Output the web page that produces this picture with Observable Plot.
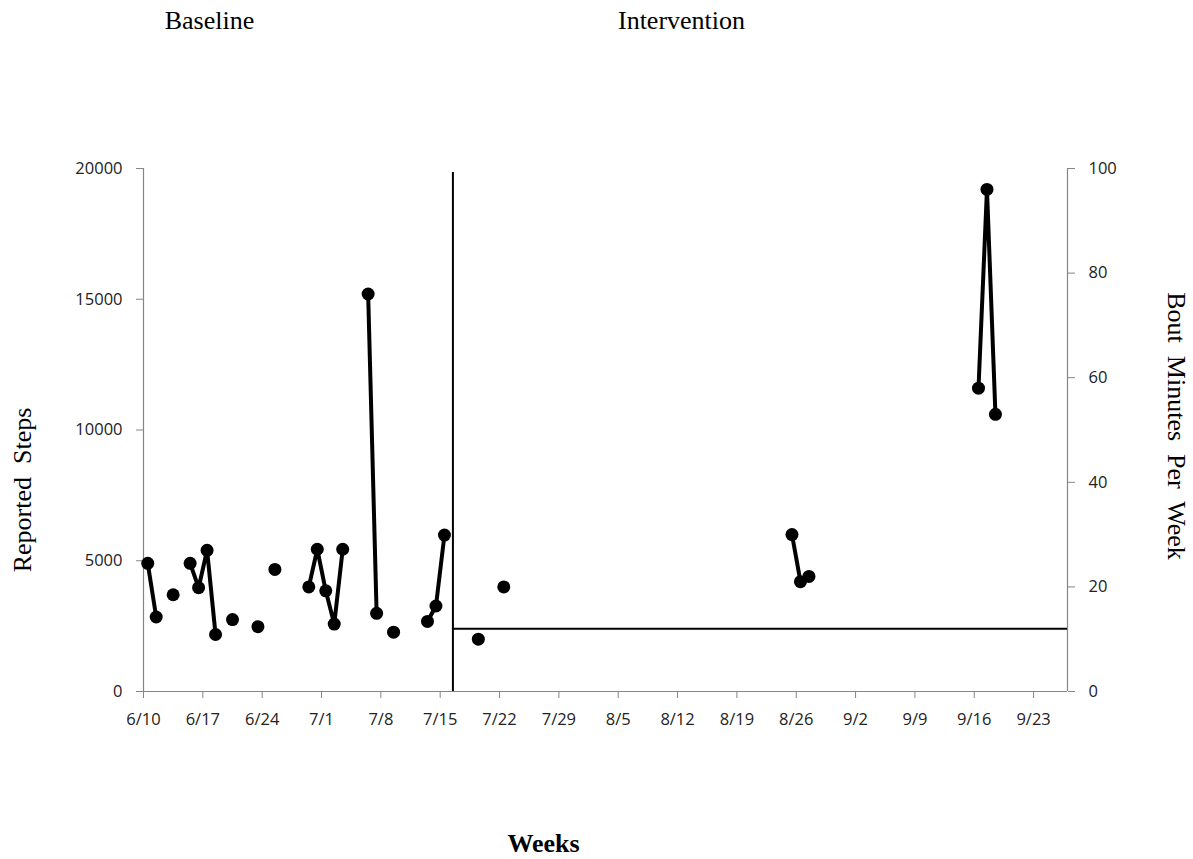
<!DOCTYPE html>
<html><head><meta charset="utf-8">
<script src="https://cdn.jsdelivr.net/npm/d3@7"></script>
<script src="https://cdn.jsdelivr.net/npm/@observablehq/plot@0.6"></script>
<style>body{margin:0;background:#fff;}</style>
</head><body><div id="chart"></div>
<script>
// ---- data ----
const baselineDates = ["6/10","6/11","6/13","6/15","6/16","6/17","6/18","6/20","6/23","6/25","6/29","6/30","7/1","7/2","7/3","7/6","7/7","7/9","7/13","7/14","7/15"];
const baselineSteps = [4900,2850,3700,4900,3970,5400,2180,2750,2480,4670,4000,5440,3850,2580,5440,15200,2990,2270,2680,3270,5980];
const interventionDates = ["7/19","7/22","8/25","8/26","8/27","9/16","9/17","9/18"];
const interventionMinutes = [10,20,30,21,22,58,96,53];
const criterionMinutes = 12;
const phaseChangeDate = "7/16";
const weekTickLabels = ["6/10","6/17","6/24","7/1","7/8","7/15","7/22","7/29","8/5","8/12","8/19","8/26","9/2","9/9","9/16","9/23"];
const xDomainLabels = ["6/10","9/27"];
const stepTicks = [0,5000,10000,15000,20000];
const minuteTicks = [0,20,40,60,80,100];
const stepsPerMinute = 20000 / 100;

// ---- helpers ----
const DAY = 864e5;
const parse = s => { const [m, d] = s.split("/").map(Number); return new Date(Date.UTC(2013, m - 1, d)); };
const mid = dt => new Date(+dt + DAY / 2);
function daily(dates, values) {
  const pts = dates.map((s, i) => ({date: parse(s), v: values[i]}));
  const map = new Map(pts.map(p => [+p.date, p.v]));
  const out = [];
  for (let t = +pts[0].date; t <= +pts[pts.length - 1].date; t += DAY) out.push({date: new Date(t), v: map.has(t) ? map.get(t) : NaN});
  return {pts, days: out};
}
const base = daily(baselineDates, baselineSteps);
const inter = daily(interventionDates, interventionMinutes.map(m => m * stepsPerMinute));
const xDomain = xDomainLabels.map(parse);
const phase = mid(parse(phaseChangeDate));

const tickFont = "'Open Sans', sans-serif";
const serif = "'Liberation Serif', 'Times New Roman', serif";
const titleSize = 26;

const chart = Plot.plot({
  width: 1193, height: 859,
  marginLeft: 143, marginRight: 126, marginTop: 168, marginBottom: 168,
  style: {fontFamily: tickFont, fontSize: "16px", background: "#fff", color: "#222"},
  x: {type: "utc", domain: xDomain},
  y: {domain: [0, 20000]},
  marks: [
    Plot.axisX({ticks: weekTickLabels.map(parse), tickFormat: d => `${d.getUTCMonth() + 1}/${d.getUTCDate()}`, tickSize: 7, tickPadding: 15, stroke: "#868686", label: null, fontSize: 16.5}),
    Plot.axisY({ticks: stepTicks, tickSize: 7, tickPadding: 14, stroke: "#868686", label: null, tickFormat: d => String(d), fontSize: 16.5}),
    Plot.axisY({anchor: "right", ticks: minuteTicks.map(m => m * stepsPerMinute), tickFormat: d => String(d / stepsPerMinute), tickSize: 7, tickPadding: 14, stroke: "#868686", label: null, fontSize: 16.5}),
    Plot.ruleX(xDomain, {stroke: "#868686", strokeWidth: 1.2}),
    Plot.ruleY([0], {stroke: "#868686", strokeWidth: 1.2}),
    Plot.ruleX([phase], {y1: 0, y2: 19850, stroke: "#000", strokeWidth: 2}),
    Plot.ruleY([criterionMinutes * stepsPerMinute], {x1: phase, x2: xDomain[1], stroke: "#000", strokeWidth: 2}),
    Plot.line(base.days, {x: d => mid(d.date), y: "v", stroke: "#000", strokeWidth: 4}),
    Plot.line(inter.days, {x: d => mid(d.date), y: "v", stroke: "#000", strokeWidth: 4}),
    Plot.dot(base.pts, {x: d => mid(d.date), y: "v", r: 6.5, fill: "#000", stroke: null}),
    Plot.dot(inter.pts, {x: d => mid(d.date), y: "v", r: 6.5, fill: "#000", stroke: null}),
    Plot.text(["Baseline"], {frameAnchor: "top-left", dx: 66, dy: -148, textAnchor: "middle", lineAnchor: "middle", fontFamily: serif, fontSize: titleSize, fill: "#000"}),
    Plot.text(["Intervention"], {frameAnchor: "top-left", dx: 538, dy: -148, textAnchor: "middle", lineAnchor: "middle", fontFamily: serif, fontSize: titleSize, fill: "#000"}),
    Plot.text(["Weeks"], {frameAnchor: "bottom-left", dx: 400, dy: 152, textAnchor: "middle", lineAnchor: "middle", fontFamily: serif, fontSize: titleSize, fontWeight: "bold", fill: "#000"}),
    Plot.text(["Reported  Steps"], {frameAnchor: "left", dx: -121, dy: 60, rotate: -90, textAnchor: "middle", lineAnchor: "middle", fontFamily: serif, fontSize: titleSize, fill: "#000"}),
    Plot.text(["Bout  Minutes  Per  Week"], {frameAnchor: "right", dx: 109, dy: -4, rotate: 90, textAnchor: "middle", lineAnchor: "middle", fontFamily: serif, fontSize: titleSize, fill: "#000"})
  ]
});
document.getElementById("chart").appendChild(chart);
</script>
</body></html>
